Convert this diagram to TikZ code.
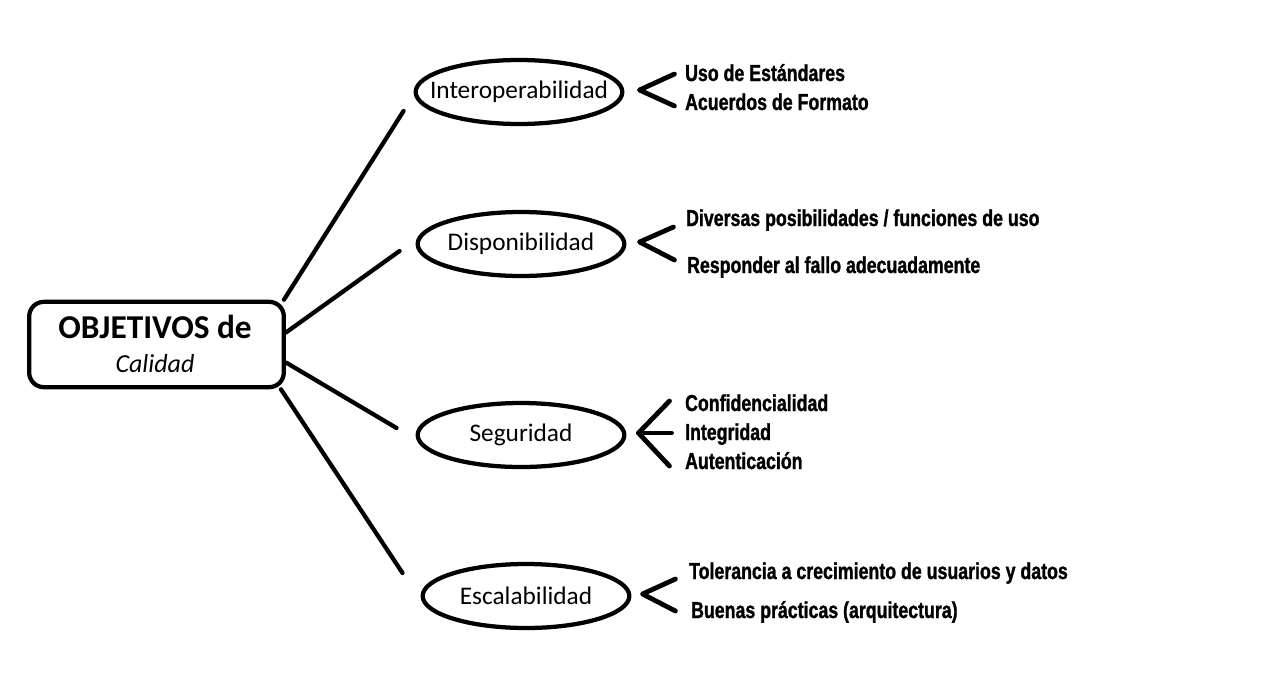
\documentclass[tikz,border=0pt]{standalone}
\usepackage{fontspec}
\setmainfont{Carlito}
\newfontfamily\leaffont[FakeStretch=0.77,FakeBold=1.2]{Liberation Sans}
\usetikzlibrary{shapes.geometric,calc}

\begin{document}
\begin{tikzpicture}[x=0.75pt,y=-0.75pt,line width=3.2pt,line cap=round,line join=round,
  goal/.style={draw,ellipse,inner sep=0,minimum width=155pt,minimum height=48pt,font=\fontsize{19}{23}\selectfont},
  leaf/.style={anchor=base west,inner sep=0,font=\leaffont\bfseries\fontsize{17.3}{20}\selectfont},
  chev/.style={line width=3.6pt}]
\useasboundingbox (0,0) rectangle (1277,689);
% main box
\node [draw,rectangle,rounded corners=11pt,minimum width=191pt,minimum height=64pt] (obj) at (156.5,344.5) {};
\node [anchor=base,inner sep=0,font=\fontsize{25}{30}\selectfont\bfseries] (objtitle) at (155,338.5) {OBJETIVOS de};
\node [anchor=base,inner sep=0,font=\fontsize{19.5}{23}\selectfont\itshape] (objsub) at (155,372) {Calidad};
% goals
\node [goal] (inter) at (519,92) {\makebox[0pt]{Interoperabilidad}};
\node [goal] (disp) at (521,244) {\makebox[0pt]{Disponibilidad}};
\node [goal] (segu) at (521,435) {\makebox[0pt]{Seguridad}};
\node [goal] (esca) at (526,596) {\makebox[0pt]{Escalabilidad}};
\draw (obj.north east) ++(-2,0) -- ($(inter.west)+(-10,19)$);
\draw ($(obj.east)+(0,-12)$) -- ($(disp.west)+(-16,7)$);
\draw ($(obj.east)+(0,18)$) -- ($(segu.west)+(-19,-7)$);
\draw ($(obj.south east)+(-5,0)$) -- ($(esca.west)+(-18,-23)$);
% details
\node [leaf] (uso) at (683,81) {Uso de Estándares};
\node [leaf] (acu) at (683,110) {Acuerdos de Formato};
\node [leaf] (div) at (684,226) {Diversas posibilidades / funciones de uso};
\node [leaf] (resp) at (685,273) {Responder al fallo adecuadamente};
\node [leaf] (conf) at (683,411) {Confidencialidad};
\node [leaf] (integ) at (683,440) {Integridad};
\node [leaf] (aut) at (683,469) {Autenticación};
\node [leaf] (tol) at (687,579) {Tolerancia a crecimiento de usuarios y datos};
\node [leaf] (buen) at (689,618) {Buenas prácticas (arquitectura)};
\draw [chev] ($(inter.east)+(50,-18)$) -- ($(inter.east)+(15,-2)$) -- ($(inter.east)+(50,14)$);
\draw [chev] ($(disp.east)+(47,-17)$) -- ($(disp.east)+(13,-2)$) -- ($(disp.east)+(48,16)$);
\draw [chev] ($(segu.east)+(43,-34)$) -- ($(segu.east)+(12,-2)$) -- ($(segu.east)+(43,31)$);
\draw [chev] ($(segu.east)+(12,-2)$) -- ($(segu.east)+(45,-2)$);
\draw [chev] ($(esca.east)+(44,-17)$) -- ($(esca.east)+(11,-2)$) -- ($(esca.east)+(44,15)$);
\end{tikzpicture}
\end{document}
